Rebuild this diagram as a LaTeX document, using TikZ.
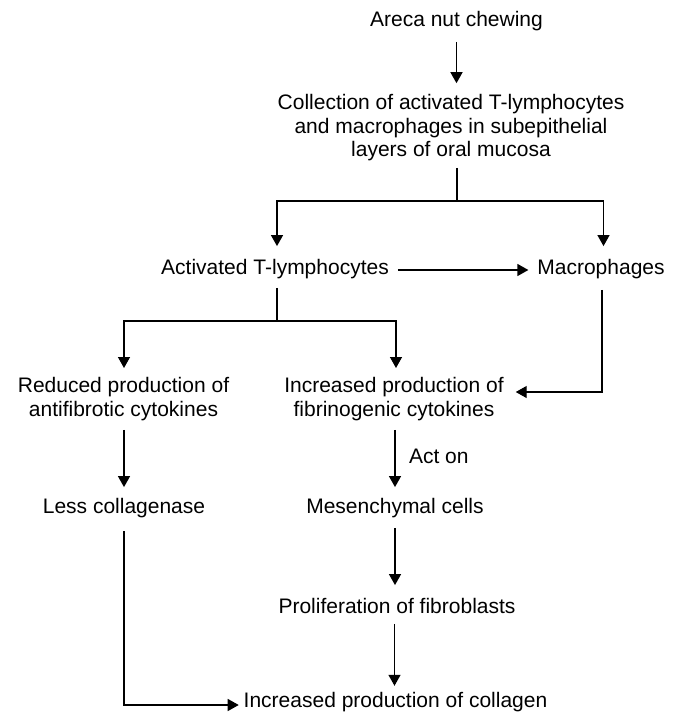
\documentclass[tikz,border=0pt]{standalone}
\usepackage{fontspec}
\setmainfont{Liberation Sans}
\usetikzlibrary{arrows.meta}
\begin{document}
\begin{tikzpicture}[x=1pt,y=-1pt,
  txt/.style={inner sep=0pt, outer sep=0pt, align=center, font=\fontsize{21}{24}\selectfont},
  con/.style={line width=1.3pt, draw=black},
  arr/.style={con, -{Triangle[length=11pt,width=12pt]}}]
\useasboundingbox (0,0) rectangle (681,715);
% nodes
\node[txt, anchor=base] (areca) at (456.5,26) {Areca nut chewing};
\node[txt, font=\fontsize{21}{23.5}\selectfont] (coll) at (451,128)
  {Collection of activated T-lymphocytes\\ and macrophages in subepithelial\\ layers of oral mucosa};
\node[txt, anchor=base] (tly) at (275,274) {Activated T-lymphocytes};
\node[txt, anchor=base] (mac) at (601,274) {Macrophages};
\node[txt] (red) at (123.5,399.5) {Reduced production of\\ antifibrotic cytokines};
\node[txt] (inc) at (394,399.5) {Increased production of\\ fibrinogenic cytokines};
\node[txt, anchor=base] (less) at (124,513) {Less collagenase};
\node[txt, anchor=base] (mes) at (395,513) {Mesenchymal cells};
\node[txt, anchor=base west] (act) at (409,463) {Act on};
\node[txt, anchor=base] (prol) at (397,613) {Proliferation of fibroblasts};
\node[txt, anchor=base] (colg) at (395.5,707) {Increased production of collagen};
\coordinate (j1) at (457,201);
\coordinate (j2) at (277,321);
% connectors
\draw[arr, shorten <=11.5pt, shorten >=11.5pt] (areca.south) -- (areca.south |- coll.north);
\draw[con, shorten <=6.5pt] (j1 |- coll.south) -- (j1);
\draw[arr, shorten >=12.7pt] (j1) -| ([xshift=2pt]tly.north);
\draw[arr, shorten >=12.7pt] (j1) -| ([xshift=2.5pt]mac.north);
\draw[arr, shorten <=9pt, shorten >=9pt] ([yshift=4pt]tly.base east) -- ([yshift=4pt]mac.base west);
\draw[con, shorten <=9.6pt] ([xshift=2pt]tly.south) -- (j2);
\draw[arr, shorten >=9.7pt] (j2) -| ([xshift=0.5pt]red.north);
\draw[arr, shorten >=9.7pt] (j2) -| ([xshift=2pt]inc.north);
\draw[arr, shorten <=11.6pt, shorten >=12pt] ([xshift=1pt]mac.south) |- ([yshift=7.5pt]inc.east);
\draw[arr, shorten <=8.6pt, shorten >=10.7pt] ([xshift=0.5pt]red.south) -- (less.north);
\draw[arr, shorten <=8.6pt, shorten >=10.7pt] ([xshift=1pt]inc.south) -- ([xshift=1pt]inc.south |- mes.north);
\draw[arr, shorten <=10.6pt, shorten >=12.7pt] ([xshift=-2pt]prol.north |- mes.south) -- ([xshift=-2pt]prol.north);
\draw[arr, shorten <=10.6pt, shorten >=6pt] ([xshift=-1pt]colg.north |- prol.south) -- ([xshift=-1pt]colg.north);
\draw[arr, shorten <=14pt, shorten >=5pt] (less.south) |- ([yshift=2pt]colg.base west);
\end{tikzpicture}
\end{document}
